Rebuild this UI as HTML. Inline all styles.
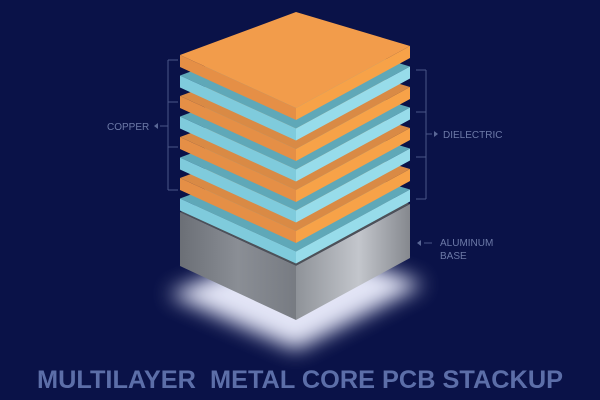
<!DOCTYPE html>
<html><head><meta charset="utf-8"><style>
html,body{margin:0;padding:0;background:#0a1248;}
svg{display:block}
</style></head><body>
<svg width="600" height="400" viewBox="0 0 600 400" xmlns="http://www.w3.org/2000/svg">
<defs>
<filter id="blur" x="-50%" y="-50%" width="200%" height="200%"><feGaussianBlur stdDeviation="10"/></filter>
<linearGradient id="alL" x1="0" x2="1" y1="0" y2="0">
<stop offset="0" stop-color="#6b6f76"/><stop offset="0.5" stop-color="#8a8e95"/><stop offset="1" stop-color="#777b82"/></linearGradient>
<linearGradient id="alR" x1="0" x2="1" y1="0" y2="0">
<stop offset="0" stop-color="#8e9298"/><stop offset="0.55" stop-color="#c3c6cc"/><stop offset="1" stop-color="#85888e"/></linearGradient>
</defs>
<rect width="600" height="400" fill="#0a1248"/>
<polygon points="168,294 296,350 424,284 300,240" fill="#eef0ff" filter="url(#blur)" opacity="0.95"/>
<polygon points="180,212 296,266 296,320 180,266" fill="url(#alL)"/>
<polygon points="296,266 410,204 410,258 296,320" fill="url(#alR)"/>
<polygon points="180,212 296,266 410,204 296,160" fill="#4d5158"/>
<g id="layers"></g>
<g stroke="#4a5688" stroke-width="1" fill="none">
<path d="M168,60V190M168,60H178M168,102H178M168,147H178M168,190H178M160,126H168"/>
<path d="M426,70V199M426,70H416M426,112H416M426,157H416M426,199H416M426,134H432"/>
<path d="M424,243H432"/>
</g>
<polygon points="154,126 158,123 158,129" fill="#5a6796"/>
<polygon points="438,134 434,131 434,137" fill="#5a6796"/>
<polygon points="417,243 421,240 421,246" fill="#5a6796"/>
<g font-family="Liberation Sans, sans-serif" font-size="10" fill="#6d7aa8">
<text x="107" y="130">COPPER</text>
<text x="443" y="138">DIELECTRIC</text>
<text x="440" y="246">ALUMINUM</text>
<text x="440" y="259">BASE</text>
</g>
<text x="37" y="388" font-family="Liberation Sans, sans-serif" font-weight="bold" font-size="25" fill="#5c6ea8" textLength="526" lengthAdjust="spacingAndGlyphs" xml:space="preserve">MULTILAYER  METAL CORE PCB STACKUP</text>
<script>
(function(){
var g=document.getElementById('layers');
var ns='http://www.w3.org/2000/svg';
var per=20.5,t=12;
function poly(pts,fill){var p=document.createElementNS(ns,'polygon');p.setAttribute('points',pts.map(function(a){return a[0]+','+a[1]}).join(' '));p.setAttribute('fill',fill);g.appendChild(p);}
for(var k=7;k>=0;k--){
 var d=k*per;var cu=(k%2==0);
 var B=[296,12+d],L=[180,55+d],F=[296,108+d],R=[410,46+d];
 var Lb=[180,55+d+t],Fb=[296,108+d+t],Rb=[410,46+d+t];
 var top=cu?(k==0?'#f29c4b':'#d98a45'):'#5fa8b8';
 var ls=cu?'#e58f46':'#7fcbdc';
 var rs=cu?'#f7a248':'#97dcea';
 poly([B,L,F,R],top);
 poly([L,F,Fb,Lb],ls);
 poly([F,R,Rb,Fb],rs);
}
})();
</script>
</svg>
</body></html>
